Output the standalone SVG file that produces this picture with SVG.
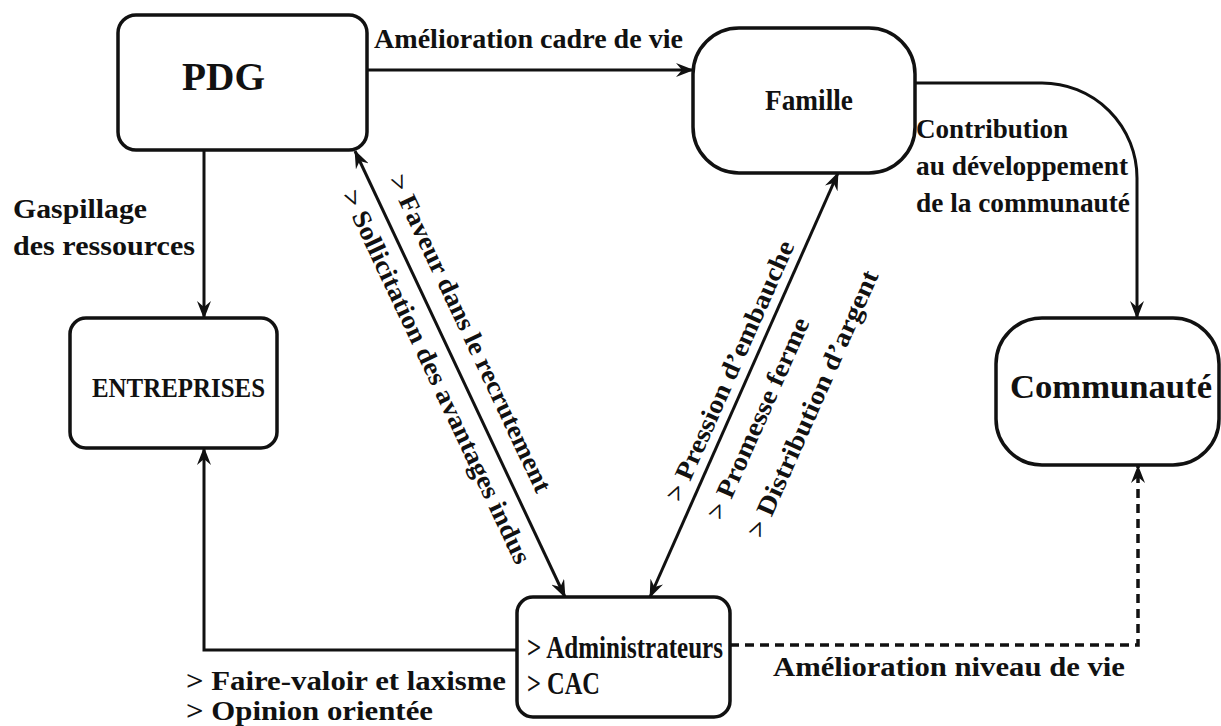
<svg xmlns="http://www.w3.org/2000/svg" width="1221" height="726" viewBox="0 0 1221 726">
<defs>
<marker id="ah" viewBox="0 0 18 14" markerWidth="18" markerHeight="14" refX="17" refY="7" orient="auto-start-reverse" markerUnits="userSpaceOnUse">
<path d="M0,0 L18,7 L0,14 L6,7 Z" fill="#111"/>
</marker>
</defs>
<style>
.node{fill:#fff;stroke:#111;stroke-width:3.5}
.con{fill:none;stroke:#111;stroke-width:3}
.dash{fill:none;stroke:#111;stroke-width:3.5;stroke-dasharray:9 6}
text{font-family:"Liberation Serif","Times New Roman",serif;font-weight:bold;fill:#111}
.lbl{font-size:27px}
.dia{font-size:26px}
</style>
<rect width="1221" height="726" fill="#fff"/>
<g id="connectors">
<line class="con" x1="367" y1="70" x2="693" y2="70" marker-end="url(#ah)"/>
<line class="con" x1="204" y1="150" x2="204" y2="318" marker-end="url(#ah)"/>
<path class="con" d="M915,83 H1042 A95,95 0 0 1 1137,178 V318" marker-end="url(#ah)"/>
<line class="con" x1="355" y1="151" x2="565" y2="597" marker-start="url(#ah)" marker-end="url(#ah)"/>
<line class="con" x1="838" y1="173" x2="650" y2="597" marker-start="url(#ah)" marker-end="url(#ah)"/>
<path class="con" d="M517,650 H204 V448" marker-end="url(#ah)"/>
<path class="dash" d="M730,645 H1138 V466" marker-end="url(#ah)"/>
</g>
<g id="labels">
<text class="lbl" x="374" y="48" textLength="309" lengthAdjust="spacingAndGlyphs">Amélioration cadre de vie</text>
<text class="lbl" x="13" y="218" textLength="134" lengthAdjust="spacingAndGlyphs">Gaspillage</text>
<text class="lbl" x="13" y="255" textLength="182" lengthAdjust="spacingAndGlyphs">des ressources</text>
<text class="lbl" x="916" y="138" textLength="152" lengthAdjust="spacingAndGlyphs">Contribution</text>
<text class="lbl" x="916" y="175" textLength="212" lengthAdjust="spacingAndGlyphs">au développement</text>
<text class="lbl" x="916" y="212" textLength="214" lengthAdjust="spacingAndGlyphs">de la communauté</text>
<text class="lbl" x="773" y="676" textLength="352" lengthAdjust="spacingAndGlyphs">Amélioration niveau de vie</text>
<text class="lbl" x="186" y="690" textLength="320" lengthAdjust="spacingAndGlyphs">&gt; Faire-valoir et laxisme</text>
<text class="lbl" x="186" y="720" textLength="247" lengthAdjust="spacingAndGlyphs">&gt; Opinion orientée</text>
<g transform="translate(355,151) rotate(64.78)">
<text class="dia" x="40" y="-18" textLength="348" lengthAdjust="spacingAndGlyphs">&gt; Faveur dans le recrutement</text>
<text class="dia" x="34" y="31" textLength="410" lengthAdjust="spacingAndGlyphs">&gt; Sollicitation des avantages indus</text>
</g>
<g transform="translate(650,597) rotate(-66.1)">
<text class="dia" x="98" y="-10" textLength="282" lengthAdjust="spacingAndGlyphs">&gt; Pression d’embauche</text>
<text class="dia" x="98" y="35" textLength="218" lengthAdjust="spacingAndGlyphs">&gt; Promesse ferme</text>
<text class="dia" x="98" y="79" textLength="289" lengthAdjust="spacingAndGlyphs">&gt; Distribution d’argent</text>
</g>
</g>
<g id="node-pdg">
<rect class="node" x="118" y="15" width="249" height="135" rx="18"/>
<text x="182" y="90" font-size="40" textLength="83" lengthAdjust="spacingAndGlyphs">PDG</text>
</g>
<g id="node-famille">
<rect class="node" x="693" y="28" width="222" height="145" rx="46"/>
<text x="765" y="110" font-size="30" textLength="88" lengthAdjust="spacingAndGlyphs">Famille</text>
</g>
<g id="node-entreprises">
<rect class="node" x="70" y="318" width="207" height="130" rx="16"/>
<text x="92" y="397" font-size="27" textLength="173" lengthAdjust="spacingAndGlyphs">ENTREPRISES</text>
</g>
<g id="node-communaute">
<rect class="node" x="996" y="318" width="223" height="147" rx="46"/>
<text x="1010" y="398" font-size="34" textLength="202" lengthAdjust="spacingAndGlyphs">Communauté</text>
</g>
<g id="node-admin">
<rect class="node" x="517" y="597" width="213" height="120" rx="16"/>
<text x="527" y="658" font-size="32" textLength="196" lengthAdjust="spacingAndGlyphs">&gt; Administrateurs</text>
<text x="527" y="694" font-size="32" textLength="73" lengthAdjust="spacingAndGlyphs">&gt; CAC</text>
</g>
</svg>
